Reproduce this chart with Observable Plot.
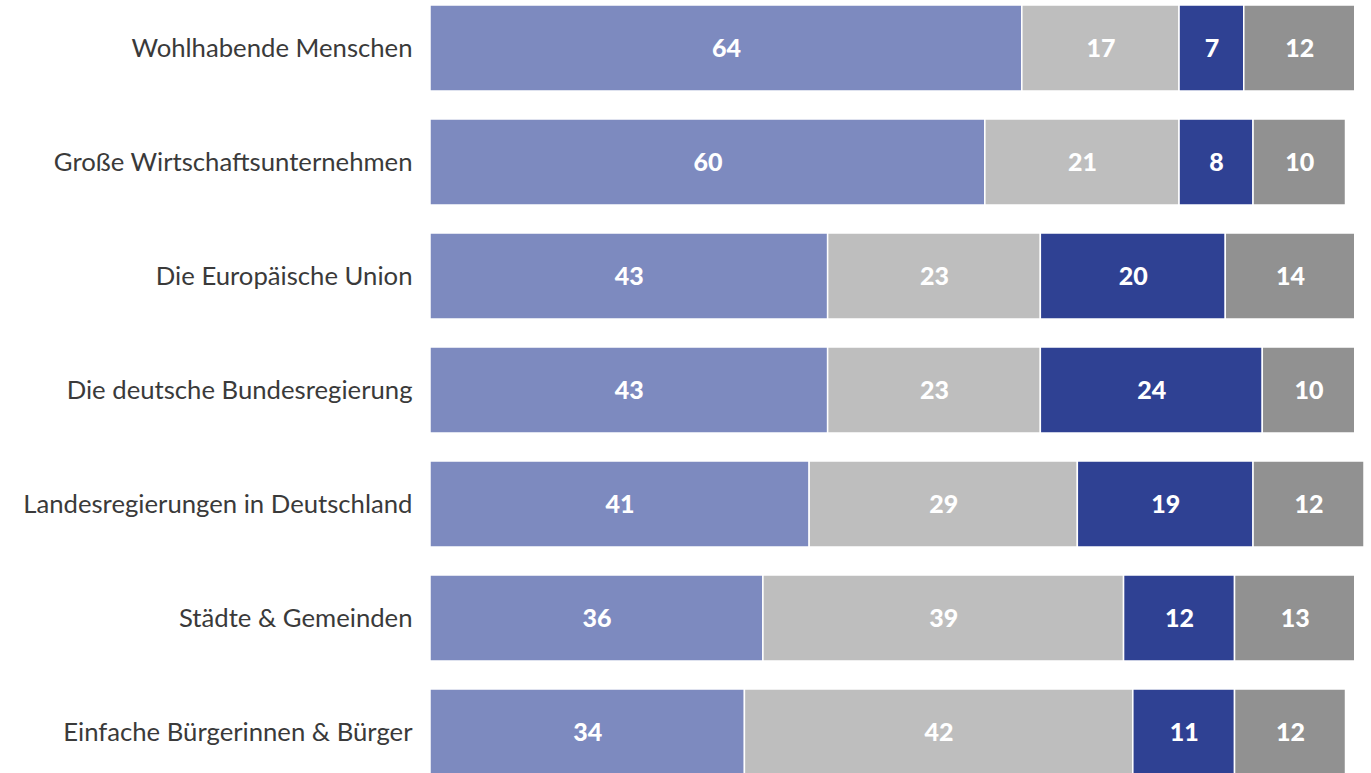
<!DOCTYPE html>
<html><head><meta charset="utf-8">
<script src="https://cdn.jsdelivr.net/npm/d3@7"></script>
<script src="https://cdn.jsdelivr.net/npm/@observablehq/plot@0.6"></script>
<style>
html,body{margin:0;padding:0;background:#fff;overflow:hidden;}
svg{display:block;}
</style></head><body>
<div id="chart"></div>
<script>
const categories = ["Wohlhabende Menschen","Große Wirtschaftsunternehmen","Die Europäische Union","Die deutsche Bundesregierung","Landesregierungen in Deutschland","Städte & Gemeinden","Einfache Bürgerinnen & Bürger"];
const seriesNames = ["s1","s2","s3","s4"];
const s1 = [64,60,43,43,41,36,34];
const s2 = [17,21,23,23,29,39,42];
const s3 = [7,8,20,24,19,12,11];
const s4 = [12,10,14,10,12,13,12];
const colors = ["#7d8abf","#bebebe","#2f4193","#919191"];
const seriesValues = [s1,s2,s3,s4];

const data = [];
categories.forEach((c,i)=>{
  seriesNames.forEach((s,j)=>{ data.push({cat:c, series:s, value:seriesValues[j][i]}); });
});

const chart = Plot.plot({
  width: 1371,
  height: 775,
  marginLeft: 430,
  marginRight: 7,
  marginTop: 5,
  marginBottom: 0,
  style: {fontFamily: "Lato, 'Noto Sans', sans-serif", background: "#fff"},
  x: {domain: [0,101], axis: null},
  y: {domain: categories, paddingInner: 28/114, paddingOuter: 0, round: false, label: null},
  color: {domain: seriesNames, range: colors},
  marks: [
    Plot.barX(data, Plot.stackX({x:"value", y:"cat", fill:"series", z:"series", stroke:"white", strokeWidth:1.5})),
    Plot.text(data, Plot.stackX({x:"value", y:"cat", z:"series", text:d=>String(d.value), fill:"white", fontSize:25, fontWeight:900})),
    Plot.axisY({tickSize:0, tickPadding:18, fontSize:25.7, color:"#3a3a3a", label:null})
  ]
});
document.getElementById("chart").appendChild(chart);
</script>
</body></html>
